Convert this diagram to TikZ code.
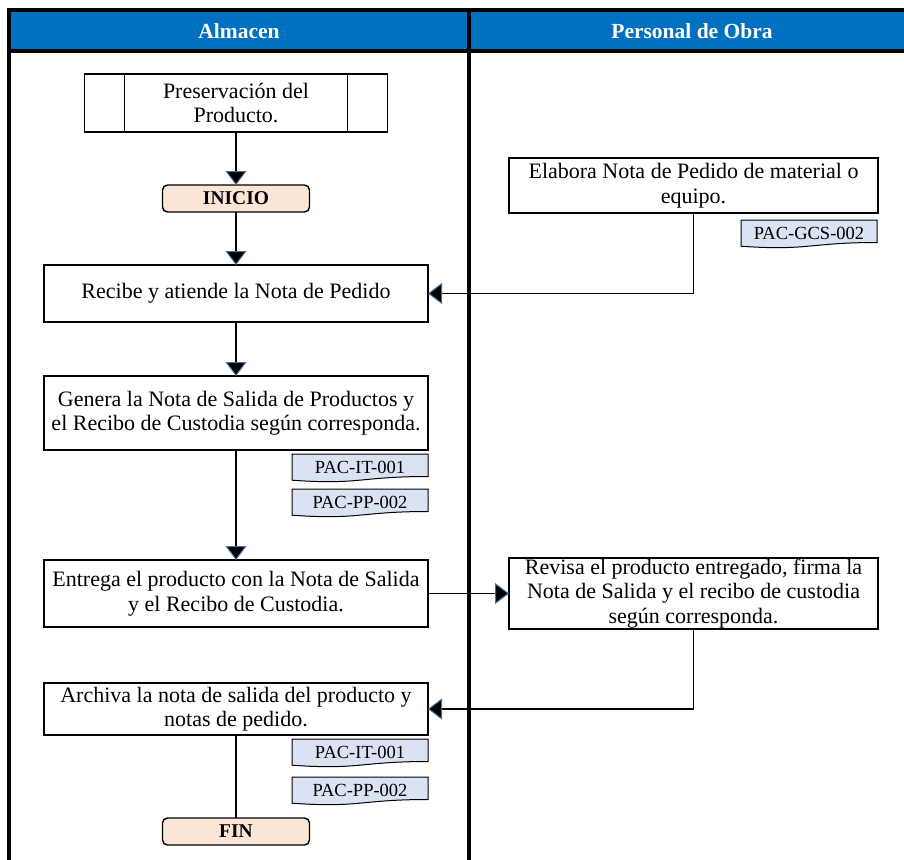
\documentclass[tikz,border=0pt]{standalone}
\usepackage{fontspec}
\setmainfont{Liberation Serif}
\usetikzlibrary{arrows.meta,positioning,calc,backgrounds}
\definecolor{laneblue}{HTML}{0070C0}
\definecolor{endsfill}{HTML}{FBE5D6}
\definecolor{docfill}{HTML}{DAE3F3}
\definecolor{tipblue}{HTML}{41719C}

\begin{document}
\begin{tikzpicture}[x=1pt, y=-1pt,
    proc/.style={draw, line width=1.4pt, align=center, inner sep=1pt, outer sep=0pt,
      minimum width=384pt, font=\fontsize{22}{24.5}\selectfont},
    ends/.style={draw, line width=1.4pt, rounded corners=5pt, fill=endsfill,
      minimum width=147pt, minimum height=27pt, inner sep=0pt, outer sep=0pt,
      font=\bfseries\fontsize{19.5}{22}\selectfont},
    docbox/.style={minimum width=136pt, minimum height=27pt, inner sep=0pt, outer sep=0pt,
      font=\fontsize{18.5}{20}\selectfont},
    docline/.style={draw, line width=1pt, fill=docfill},
    flow/.style={line width=1.6pt,
      -{Triangle[width=21pt,length=14pt,color=tipblue,fill=black,line width=1pt]}},
    lane/.style={line width=3.5pt},
    head/.style={text=white, font=\bfseries\fontsize{21.5}{24}\selectfont}]

  \useasboundingbox (0,0) rectangle (904,859);

  % lanes
  \fill[laneblue] (9,11) rectangle (905,51);
  \node[head] (almacen) at (239,31) {Almacen};
  \node[head] (personal) at (692,31) {Personal de Obra};
  \draw[lane] (9,860) -- (9,10) -- (906,10);
  \draw[lane] (9,51) -- (906,51);
  \draw[lane] (469,10) -- (469,860);

  % Almacen
  \node[proc, minimum width=303pt, minimum height=58pt] (pres) at (236,103)
    {Preservación del\\Producto.};
  \draw[line width=1.4pt] ([xshift=40pt]pres.north west) -- ([xshift=40pt]pres.south west)
    ([xshift=-40pt]pres.north east) -- ([xshift=-40pt]pres.south east);
  \node[ends] (inicio) [below=53pt of pres] {INICIO};
  \node[proc, minimum height=57pt] (recibe) [below=53pt of inicio]
    {Recibe y atiende la Nota de Pedido};
  \node[proc, minimum height=74pt] (genera) [below=54pt of recibe]
    {Genera la Nota de Salida de Productos y\\el Recibo de Custodia según corresponda.};
  \node[docbox, below=4pt of genera.south east, anchor=north east] (it1) {PAC-IT-001};
  \node[docbox] (pp1) [below=8pt of it1] {PAC-PP-002};
  \node[proc, minimum height=67pt] (entrega) [below=110pt of genera]
    {Entrega el producto con la Nota de Salida\\y el Recibo de Custodia.};
  \node[proc, minimum height=52pt] (archiva) [below=56pt of entrega]
    {Archiva la nota de salida del producto y\\notas de pedido.};
  \node[docbox, below=4pt of archiva.south east, anchor=north east] (it2) {PAC-IT-001};
  \node[docbox] (pp2) [below=11pt of it2] {PAC-PP-002};
  \node[ends] (fin) [below=83pt of archiva] {FIN};

  % Personal de Obra
  \node[proc, minimum width=369pt, minimum height=55pt] (elabora) at (693.5,185.5)
    {Elabora Nota de Pedido de material o\\equipo.};
  \node[docbox, below=7pt of elabora.south east, anchor=north east, xshift=-1pt] (gcs) {PAC-GCS-002};
  \node[proc, minimum width=369pt, minimum height=71pt] (revisa) [right=81pt of entrega]
    {Revisa el producto entregado, firma la\\Nota de Salida y el recibo de custodia\\según corresponda.};

  \begin{pgfonlayer}{background}
    \foreach \d in {gcs,it1,pp1,it2,pp2}
      \draw[docline] (\d.north west) -- (\d.north east) -- ($(\d.north east)+(0,22.5)$)
        .. controls +(-68,0) and +(68,4.8) .. ($(\d.north west)+(0,26.2)$) -- cycle;
  \end{pgfonlayer}

  \path (pres) edge[flow] (inicio)
        (inicio) edge[flow] (recibe)
        (recibe) edge[flow] (genera)
        (genera) edge[flow] (entrega)
        (entrega) edge[flow] (revisa)
        (archiva) edge[line width=1.6pt] (fin)
        ;
  \draw[flow] (elabora) |- (recibe);
  \draw[flow] (revisa) |- (archiva);
\end{tikzpicture}
\end{document}
